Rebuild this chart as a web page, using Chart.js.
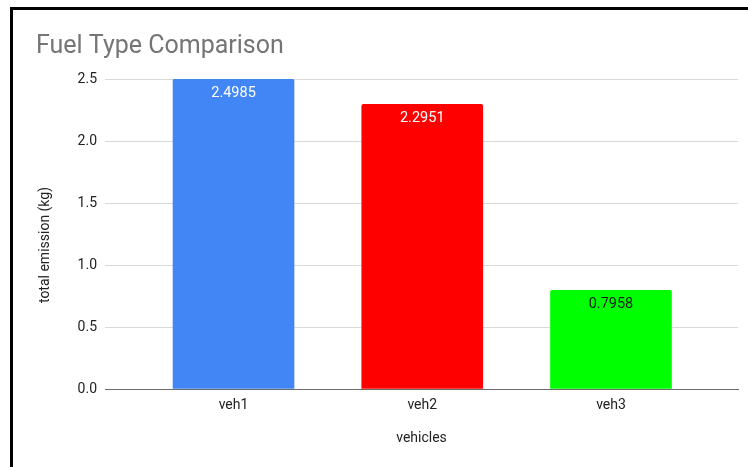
<!DOCTYPE html>
<html>
<head>
<meta charset="utf-8">
<script src="https://cdn.jsdelivr.net/npm/chart.js@4/dist/chart.umd.min.js"></script>
<style>
  html, body { margin: 0; padding: 0; background: #fff; overflow: hidden; }
  #wrap { position: relative; width: 748px; height: 467px; }
  #chart { position: absolute; left: 0; top: 0; }
  #frame {
    position: absolute; left: 10px; top: 7px; width: 760px; height: 470px;
    border-left: 3px solid #000; border-top: 3px solid #000; pointer-events: none;
  }
</style>
</head>
<body>
<div id="wrap">
  <canvas id="chart" width="748" height="467"></canvas>
  <div id="frame"></div>
</div>
<script>
// Vehicles and their total emissions (kg)
const vehicles = ['veh1', 'veh2', 'veh3'];
const emissions = [2.4985, 2.2951, 0.7958];
const barColors = ['#4285F4', '#FF0000', '#00FF00'];
const valueLabelColors = ['#FFFFFF', '#FFFFFF', '#1A1A1A'];
const yTicks = [0, 0.5, 1.0, 1.5, 2.0, 2.5];

const FONT = 'Roboto, "Liberation Sans", Arial, sans-serif';

// Chart title (top-left) and the vertical y-axis title
const titlePlugin = {
  id: 'titles',
  afterDraw(chart) {
    const ctx = chart.ctx;
    ctx.save();
    ctx.font = '25px ' + FONT;
    ctx.fillStyle = '#757575';
    ctx.textAlign = 'left';
    ctx.textBaseline = 'alphabetic';
    ctx.fillText('Fuel Type Comparison', 36, 53);

    ctx.translate(45, 245);
    ctx.rotate(-Math.PI / 2);
    ctx.font = '14px ' + FONT;
    ctx.fillStyle = '#222';
    ctx.textAlign = 'center';
    ctx.textBaseline = 'middle';
    ctx.fillText('total emission (kg)', 0, 0);
    ctx.restore();
  }
};

// Value labels inside the top of each bar
const valueLabels = {
  id: 'valueLabels',
  afterDatasetsDraw(chart) {
    const ctx = chart.ctx;
    const meta = chart.getDatasetMeta(0);
    ctx.save();
    ctx.font = '14.5px ' + FONT;
    ctx.textAlign = 'center';
    ctx.textBaseline = 'middle';
    meta.data.forEach((bar, i) => {
      ctx.fillStyle = valueLabelColors[i];
      ctx.fillText(String(emissions[i]), bar.x, bar.y + 14);
    });
    ctx.restore();
  }
};

new Chart(document.getElementById('chart'), {
  type: 'bar',
  data: {
    datasets: [{
      data: emissions.map((v, i) => ({ x: i, y: v })),
      backgroundColor: barColors,
      borderWidth: 0,
      borderRadius: { topLeft: 2, topRight: 2, bottomLeft: 0, bottomRight: 0 },
      borderSkipped: 'bottom',
      barThickness: 121
    }]
  },
  options: {
    responsive: false,
    animation: false,
    devicePixelRatio: 1,
    layout: { padding: { left: 0, right: 10, top: 79, bottom: 0 } },
    plugins: {
      legend: { display: false },
      title: { display: false },
      tooltip: { enabled: false }
    },
    scales: {
      x: {
        type: 'linear',
        offset: false,
        bounds: 'data',
        min: -0.681,
        max: 2.673,
        afterDataLimits(scale) { scale.min = -0.681; scale.max = 2.673; },
        afterBuildTicks(scale) {
          scale.ticks = vehicles.map((_, i) => ({ value: i }));
        },
        afterFit(scale) { scale.height = 78; },
        grid: { display: false, drawTicks: false, offset: false },
        border: { display: true, color: '#6b6b6b', width: 1 },
        ticks: {
          padding: 8,
          color: '#222',
          font: { family: FONT, size: 14 },
          callback: (v) => vehicles[v]
        },
        title: {
          display: true,
          text: 'vehicles',
          color: '#222',
          font: { family: FONT, size: 14 },
          padding: { top: 0, bottom: 20 }
        }
      },
      y: {
        min: 0,
        max: 2.5,
        afterBuildTicks(scale) {
          scale.ticks = yTicks.map(v => ({ value: v }));
        },
        afterFit(scale) { scale.width = 105; },
        grid: { color: '#d9d9d9', drawTicks: false },
        border: { display: false },
        ticks: {
          padding: 8,
          color: '#222',
          font: { family: FONT, size: 14 },
          callback: (v) => Number(v).toFixed(1)
        },
        title: { display: false }
      }
    }
  },
  plugins: [titlePlugin, valueLabels]
});
</script>
</body>
</html>
